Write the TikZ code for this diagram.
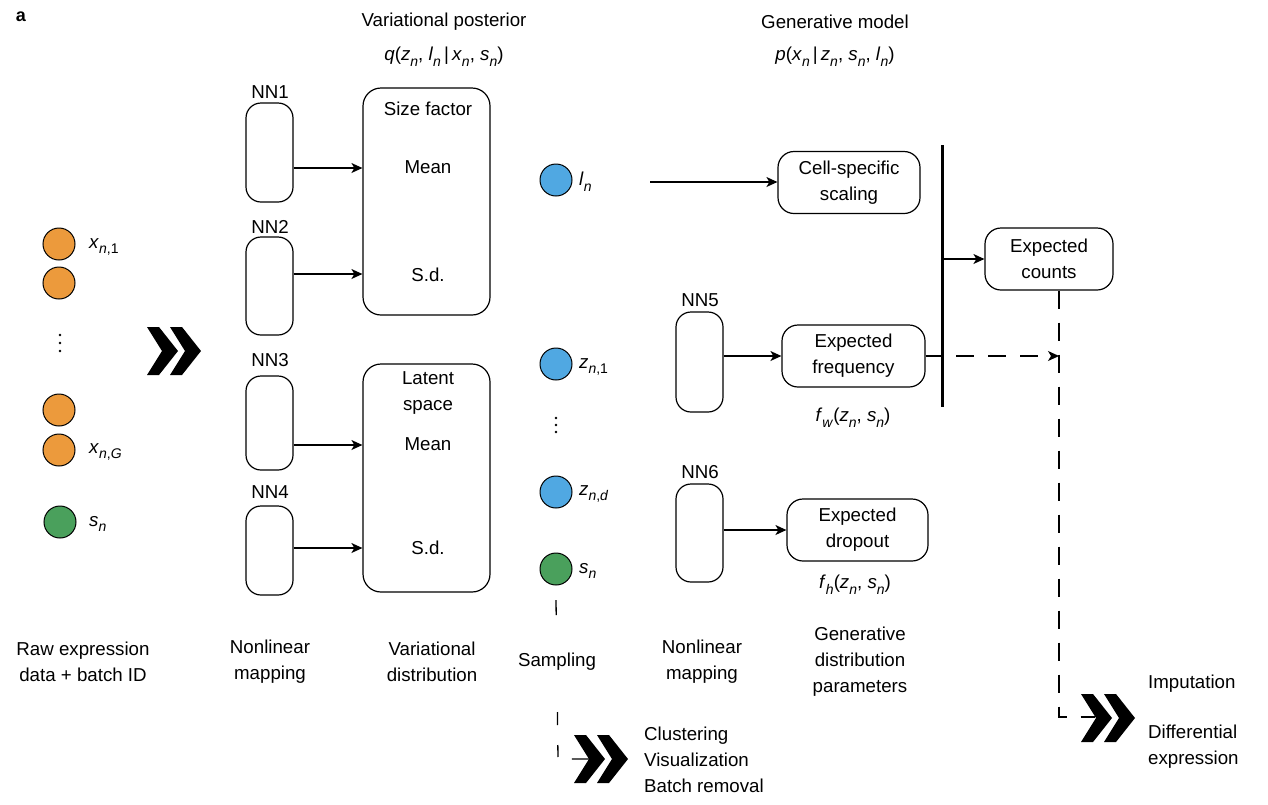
\documentclass[tikz,border=0pt]{standalone}
\usepackage{fontspec}
\setmainfont{Liberation Sans}
\usetikzlibrary{arrows.meta}
\newcommand\vv[2]{\textit{#1}\raisebox{-0.3em}{\fontsize{14}{14}\selectfont #2}}
\definecolor{orng}{RGB}{236,154,60}
\definecolor{blu}{RGB}{80,168,226}
\definecolor{grn}{RGB}{74,160,92}
\tikzset{
  chev/.pic={
    \fill (0,-24) -- (12,-24) -- (31,0) -- (12,24) -- (0,24) -- (15,0) -- cycle;
    \fill (23,-24) -- (35,-24) -- (54,0) -- (35,24) -- (23,24) -- (38,0) -- cycle;
  }
}
\begin{document}
\begin{tikzpicture}[x=1pt,y=-1pt,
  every node/.style={font=\fontsize{18.7}{26}\selectfont, inner sep=0pt},
  nnbox/.style={draw, line width=1.2pt, rounded corners=15pt, minimum width=47pt},
  bigbox/.style={draw, line width=1.2pt, rounded corners=18pt, minimum width=127pt},
  rbox/.style={draw, line width=1.2pt, rounded corners=16pt, align=center, minimum height=62pt},
  dotn/.style={circle, draw, line width=1pt, minimum size=32pt},
  tipst/.style={-{Stealth[length=11pt,width=10pt,inset=3pt]}},
  arr/.style={line width=1.3pt, tipst},
  plain/.style={line width=1.3pt},
  dline/.style={line width=1.3pt, dash pattern=on 18pt off 14pt},
  lbl/.style={align=center},
  sml/.style={circle, fill, inner sep=0pt, minimum size=2.8pt},
]
\useasboundingbox (0,0) rectangle (1268,804);

\node[font=\bfseries\fontsize{18}{20}\selectfont] (lab) at (21,17) {a};

% titles
\node (vpt) at (444,22) {Variational posterior};
\node (vpf) at (444,57) {\textit{q}(\vv{z}{\textit{n}}, \vv{l}{\textit{n}}\,|\,\vv{x}{\textit{n}}, \vv{s}{\textit{n}})};
\node (gmt) at (835,22) {Generative model};
\node (gmf) at (835,57) {\textit{p}(\vv{x}{\textit{n}}\,|\,\vv{z}{\textit{n}}, \vv{s}{\textit{n}}, \vv{l}{\textit{n}})};

% input circles
\node[dotn, fill=orng] (x1) at (59,244) {};
\node[dotn, fill=orng] (x2) at (59,283) {};
\node[dotn, fill=orng] (x3) at (59,410) {};
\node[dotn, fill=orng] (x4) at (59,450) {};
\node[dotn, fill=grn] (s1) at (60,522) {};
\node[anchor=west] (x1l) at (89,247) {\vv{x}{\textit{n},1}};
\node[anchor=west] (x4l) at (89,452) {\vv{x}{\textit{n},\textit{G}}};
\node[anchor=west] (s1l) at (89,524) {\vv{s}{\textit{n}}};
\node[sml] (d1) at (60,335) {};
\node[sml] (d2) at (60,343) {};
\node[sml] (d3) at (60,351) {};

\pic at (147,351) {chev};

% NN boxes (encoder)
\node[nnbox, minimum height=99pt] (nn1) at (269.5,152.5) {};
\node[nnbox, minimum height=98pt] (nn2) at (269.5,286) {};
\node[nnbox, minimum height=94pt] (nn3) at (269.5,423) {};
\node[nnbox, minimum height=89pt] (nn4) at (269.5,550.5) {};
\node (nn1l) at (270,92) {NN1};
\node (nn2l) at (270,227) {NN2};
\node (nn3l) at (270,360) {NN3};
\node (nn4l) at (270,492) {NN4};

% variational boxes
\node[bigbox, minimum height=227pt] (sf) at (426.5,201.5) {};
\node (sft) at (428,109) {Size factor};
\node (sfm) at (428,167) {Mean};
\node (sfs) at (428,275) {S.d.};
\node[bigbox, minimum height=228pt] (ls) at (426.5,478) {};
\node[lbl] (lst) at (428,393) {Latent\\space};
\node (lsm) at (428,444) {Mean};
\node (lss) at (428,548) {S.d.};

\draw[arr] (nn1.east |- 0,168) -- (sf.west |- 0,168);
\draw[arr] (nn2.east |- 0,274) -- (sf.west |- 0,274);
\draw[arr] (nn3.east |- 0,445) -- (ls.west |- 0,445);
\draw[arr] (nn4.east |- 0,548) -- (ls.west |- 0,548);

% latent samples
\node[dotn, fill=blu] (ln) at (556,180) {};
\node[dotn, fill=blu] (z1) at (556,364) {};
\node[dotn, fill=blu] (zd) at (556,492) {};
\node[dotn, fill=grn] (s2) at (556,569) {};
\node[anchor=west] (lnl) at (579,182) {\vv{l}{\textit{n}}};
\node[anchor=west] (z1l) at (579,367) {\vv{z}{\textit{n},1}};
\node[anchor=west] (zdl) at (579,494) {\vv{z}{\textit{n},\textit{d}}};
\node[anchor=west] (s2l) at (579,571) {\vv{s}{\textit{n}}};
\node[sml] (d4) at (556,418) {};
\node[sml] (d5) at (556,425) {};
\node[sml] (d6) at (556,432) {};

% generative side
\node[rbox, minimum width=142pt] (cs) at (849,182.5) {Cell-specific\\scaling};
\coordinate (lstart) at (650,182);
\draw[arr] (lstart) -- (cs.west |- lstart);

\node[nnbox, minimum height=100pt] (nn5) at (699.5,362) {};
\node[nnbox, minimum height=98pt] (nn6) at (699.5,533) {};
\node (nn5l) at (700,300) {NN5};
\node (nn6l) at (700,472) {NN6};

\node[rbox, minimum width=143pt] (ef) at (853.5,356) {Expected\\frequency};
\node[rbox, minimum width=141pt] (ed) at (857.5,530) {Expected\\dropout};
\node (fw) at (853,418) {\vv{f}{\textit{w}}(\vv{z}{\textit{n}}, \vv{s}{\textit{n}})};
\node (fh) at (855,585) {\vv{f}{\textit{h}}(\vv{z}{\textit{n}}, \vv{s}{\textit{n}})};

\draw[arr] (nn5.east |- ef) -- (ef.west);
\draw[arr] (nn6.east |- ed) -- (ed.west);

\coordinate (bartop) at (942,145);
\coordinate (barbot) at (942,407);
\draw[line width=3pt] (bartop) -- (barbot);

\node[rbox, minimum width=128pt] (ec) at (1049,259) {Expected\\counts};
\draw[arr] (bartop |- ec) -- (ec.west);

\draw[plain] (ef.east) -- (ef.east -| bartop);
\coordinate (dtop) at ([xshift=10pt]ec.south);
\coordinate (dcorner) at (1059,717);
\coordinate (dend) at (1095,717);
\draw[dline] (dtop) -- (dcorner) -- (dend);
\draw[dline, dash phase=18pt, tipst] (ef.east -| bartop) -- (ef.east -| dtop);

\pic at (1081,718) {chev};
\node[anchor=west] (imp) at (1148,684) {Imputation};
\node[anchor=west, align=left] (de) at (1148,747) {Differential\\expression};

% bottom middle
\coordinate (scorner) at (558,759);
\coordinate (send) at (592,759);
\draw[line width=1.3pt, dash pattern=on 15pt off 97pt on 13pt off 20pt on 12pt off 16pt on 20pt] (556,600) -- (scorner) -- (send);
\pic at (574,759) {chev};
\node[anchor=west, align=left] (clu) at (644,760) {Clustering\\Visualization\\Batch removal};

% bottom labels
\node[lbl] (b1) at (83,662) {Raw expression\\data + batch ID};
\node[lbl] (b2) at (270,662) {Nonlinear\\mapping};
\node[lbl] (b3) at (432,662) {Variational\\distribution};
\node[lbl] (b4) at (557,662) {Sampling};
\node[lbl] (b5) at (702,662) {Nonlinear\\mapping};
\node[lbl] (b6) at (860,662) {Generative\\distribution\\parameters};
\end{tikzpicture}
\end{document}
